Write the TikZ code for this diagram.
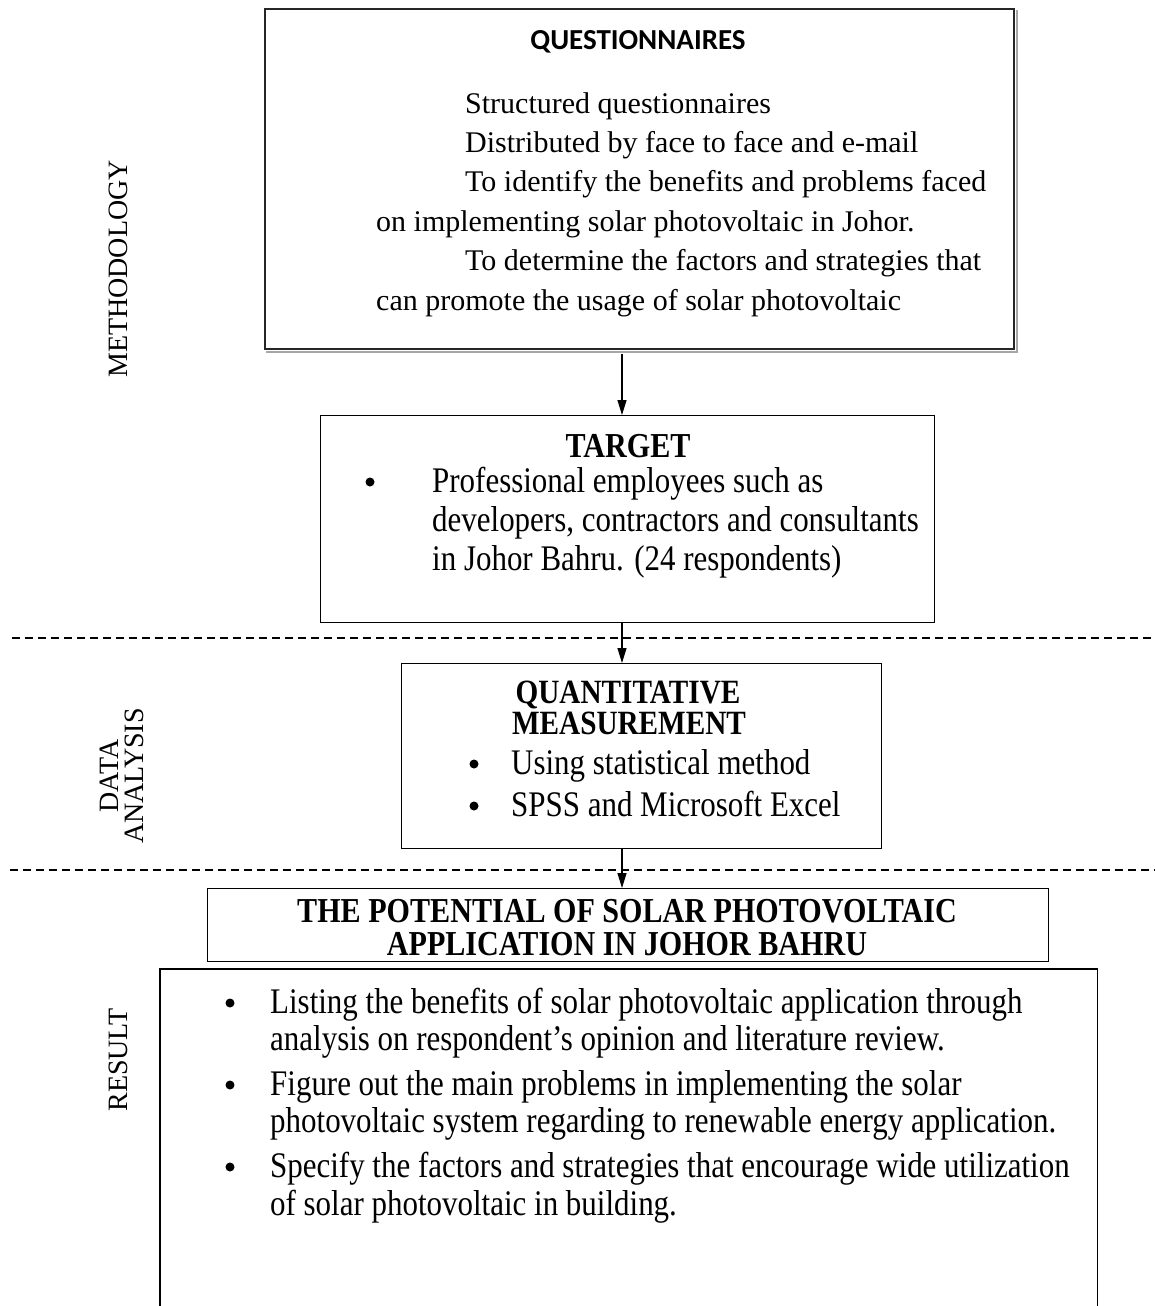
\documentclass[tikz,border=0pt]{standalone}
\usepackage{fontspec}
\setmainfont{Liberation Serif}[FakeStretch=0.86]
\newfontfamily\plainserif{Liberation Serif}
\newfontfamily\calib{Carlito}
\usetikzlibrary{arrows.meta}
\begin{document}
\begin{tikzpicture}[x=1pt,y=-1pt,
  boxnode/.style={draw, line width=1.3pt, anchor=north west, inner sep=0pt},
  ln/.style={anchor=base west, inner sep=0pt, font=\fontsize{36}{39}\selectfont},
  qln/.style={anchor=base west, inner sep=0pt, font=\plainserif\fontsize{30}{39}\selectfont},
  ttl/.style={anchor=base, inner sep=0pt, font=\fontsize{35}{36}\selectfont\bfseries},
  bul/.style={circle, fill, inner sep=0pt, minimum size=9pt},
  side/.style={rotate=90, inner sep=0pt, font=\plainserif\fontsize{28}{25}\selectfont, align=center},
  arr/.style={line width=1.2pt, -{Triangle[width=9pt,length=15pt]}},
  dsh/.style={line width=1.2pt, dash pattern=on 8pt off 5pt}]
\useasboundingbox (0,0) rectangle (1155,1306);

% boxes
\node[boxnode, draw=black!85, line width=1.6pt, minimum width=749pt, minimum height=340pt] (q) at (264,8) {};
\draw[black!35, line width=1.4pt] ([xshift=2pt,yshift=-2.5pt]q.south west) -- ([xshift=2.5pt,yshift=-2.5pt]q.south east) -- ([xshift=2.5pt,yshift=-2pt]q.north east);
\node[boxnode, minimum width=614pt, minimum height=207pt] (t) at (320,415) {};
\node[boxnode, minimum width=480pt, minimum height=185pt] (m) at (401,663) {};
\node[boxnode, minimum width=841pt, minimum height=73pt] (p) at (207,888) {};
\node[anchor=north west, inner sep=0pt, minimum width=937pt, minimum height=337pt] (r) at (160,969) {};
\draw[line width=1.3pt] (r.south west) -- (r.north west) -- (r.north east) -- (r.south east);

% axis for arrows
\coordinate (ax) at (622,0);
\draw[arr, shorten <=4pt] (q.south -| ax) -- (t.north -| ax);
\draw[arr] (t.south -| ax) -- (m.north -| ax);
\draw[arr] (m.south -| ax) -- (p.north -| ax);

% dashed separators
\draw[dsh] (12,638) -- (1155,638);
\draw[dsh] (10,870) -- (1155,870);

% side labels
\node[side] (lmeth) at (118,269) {METHODOLOGY};
\node[side] (ldata) at (122,776) {DATA\\ANALYSIS};
\node[side] (lres) at (118,1060) {RESULT};

% questionnaires box
\node[anchor=base, inner sep=0pt, font=\calib\bfseries\fontsize{29}{36}\selectfont] (qt) at (638,49) {QUESTIONNAIRES};
\node[qln] (q1) at (465,113) {Structured questionnaires};
\node[qln] (q2) at (465,152) {Distributed by face to face and e-mail};
\node[qln] (q3) at (465,191) {To identify the benefits and problems faced};
\node[qln] (q4) at (376,231) {on implementing solar photovoltaic in Johor.};
\node[qln] (q5) at (465,270) {To determine the factors and strategies that};
\node[qln] (q6) at (376,310) {can promote the usage of solar photovoltaic};

% target box
\node[ttl] (tt) at (628,457) {TARGET};
\node[bul] (tb1) at (370,482) {};
\node[ln] (t1) at (432,492) {Professional employees such as};
\node[ln] (t2) at (432,531) {developers, contractors and consultants};
\node[ln] (t3) at (432,570) {in Johor Bahru. (24 respondents)};

% quantitative box
\node[ttl, font=\fontsize{34}{36}\selectfont\bfseries] (mt1) at (628,703) {QUANTITATIVE};
\node[ttl, font=\fontsize{34}{36}\selectfont\bfseries] (mt2) at (629,734) {MEASUREMENT};
\node[bul] (mb1) at (474,764) {};
\node[ln] (m1) at (511,774) {Using statistical method};
\node[bul] (mb2) at (474,806) {};
\node[ln] (m2) at (511,816) {SPSS and Microsoft Excel};

% potential box
\node[ttl] (pt1) at (627,922) {THE POTENTIAL OF SOLAR PHOTOVOLTAIC};
\node[ttl] (pt2) at (627,955) {APPLICATION IN JOHOR BAHRU};

% result box
\node[bul] (rb1) at (230,1003) {};
\node[ln] (r1) at (270,1013) {Listing the benefits of solar photovoltaic application through};
\node[ln] (r2) at (270,1050) {analysis on respondent’s opinion and literature review.};
\node[bul] (rb2) at (230,1085) {};
\node[ln] (r3) at (270,1095) {Figure out the main problems in implementing the solar};
\node[ln] (r4) at (270,1132) {photovoltaic system regarding to renewable energy application.};
\node[bul] (rb3) at (230,1167) {};
\node[ln] (r5) at (270,1177) {Specify the factors and strategies that encourage wide utilization};
\node[ln] (r6) at (270,1215) {of solar photovoltaic in building.};
\end{tikzpicture}
\end{document}
